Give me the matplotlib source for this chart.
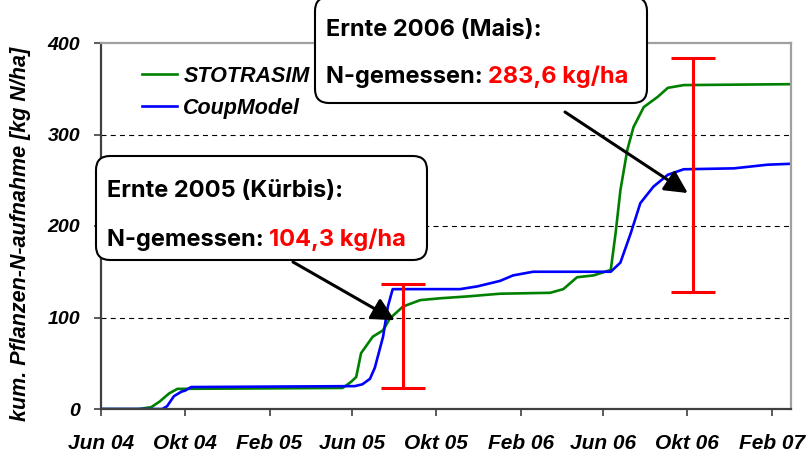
import matplotlib
matplotlib.use("Agg")
import matplotlib.pyplot as plt
from matplotlib.patches import FancyBboxPatch
import numpy as np
import pandas as pd

# kumulierte N-Aufnahme
stotrasim_dates = ["2004-06-01", "2004-07-26", "2004-08-13", "2004-08-25", "2004-09-08", "2004-09-20",
                   "2005-05-18", "2005-05-24", "2005-05-31", "2005-06-07", "2005-06-14", "2005-07-01",
                   "2005-07-16", "2005-07-26", "2005-08-14", "2005-09-08", "2005-10-07", "2005-11-15",
                   "2006-01-02", "2006-03-16", "2006-04-04", "2006-04-24", "2006-05-18", "2006-06-12",
                   "2006-06-19", "2006-06-26", "2006-07-06", "2006-07-15", "2006-07-30", "2006-08-19",
                   "2006-09-03", "2006-09-26", "2007-03-01"]
stotrasim_n = [0, 0, 2, 8, 17, 22,
               23, 26, 30, 35, 61, 79,
               86, 99, 112, 119, 121, 123,
               126, 127, 131, 144, 146, 152,
               192, 239, 283, 308, 330, 341,
               351, 354, 355]

coup_dates = ["2004-06-01", "2004-08-29", "2004-09-05", "2004-09-15", "2004-09-26", "2004-10-01",
              "2004-10-10", "2005-06-05", "2005-06-16", "2005-06-27", "2005-07-04", "2005-07-16",
              "2005-07-23", "2005-07-30", "2005-11-05", "2005-11-30", "2006-01-02", "2006-01-21",
              "2006-02-19", "2006-06-12", "2006-06-26", "2006-07-11", "2006-07-25", "2006-08-13",
              "2006-09-03", "2006-09-26", "2006-12-08", "2007-01-26", "2007-03-01"]
coup_n = [0, 0, 3, 14, 19, 20,
          24, 25, 27, 33, 45, 79,
          112, 131, 131, 134, 140, 146,
          150, 150, 160, 192, 225, 243,
          256, 262, 263, 267, 268]

# Messungen (Fehlerbalken)
ernte_dates = ["2005-08-14", "2006-10-10"]
ernte_low = [23, 128]
ernte_high = [137, 384]
ernte_titel = ["Ernte 2005 (Kürbis):", "Ernte 2006 (Mais):"]
ernte_wert = ["104,3 kg/ha", "283,6 kg/ha"]
pfeil_dates = ["2005-08-02", "2006-10-02"]
pfeil_n = [97, 236]

tick_dates = ["2004-06-01", "2004-10-01", "2005-02-01", "2005-06-01", "2005-10-01",
              "2006-02-01", "2006-06-01", "2006-10-01", "2007-02-01"]
tick_labels = ["Jun 04", "Okt 04", "Feb 05", "Jun 05", "Okt 05",
               "Feb 06", "Jun 06", "Okt 06", "Feb 07"]
y_ticks = [0, 100, 200, 300, 400]

W, H = 809, 454
arial = "Liberation Sans"
box_font = ["Inter", "DejaVu Sans"]

fig = plt.figure(figsize=(W / 100, H / 100), dpi=100)
ax = fig.add_axes([101 / W, 45 / H, 690 / W, 366 / H])

ax.plot(pd.to_datetime(stotrasim_dates), stotrasim_n, color="#008000", lw=1.9, label="STOTRASIM")
ax.plot(pd.to_datetime(coup_dates), coup_n, color="#0000FF", lw=1.9, label="CoupModel")

low = np.array(ernte_low)
high = np.array(ernte_high)
ax.errorbar(pd.to_datetime(ernte_dates), low, yerr=[np.zeros_like(low), high - low],
            fmt="none", ecolor="#FF0000", elinewidth=2.2, capsize=16, capthick=2.2, zorder=5)

ax.set_xlim(pd.Timestamp("2004-06-01"), pd.Timestamp("2007-03-01"))
ax.set_ylim(0, 400)
ax.set_xticks(pd.to_datetime(tick_dates))
ax.set_xticklabels(tick_labels, fontsize=15, fontweight="bold", fontstyle="italic", family=arial)
ax.set_yticks(y_ticks)
ax.set_yticklabels([str(v) for v in y_ticks], fontsize=14, fontweight="bold", fontstyle="italic",
                   family=arial)
ax.tick_params(axis="y", direction="out", length=5, width=1.2, color="#404040", pad=10)
ax.tick_params(axis="x", direction="out", length=5, width=1.2, color="#404040", pad=13)

for y in y_ticks[1:-1]:
    ax.axhline(y, color="black", lw=0.8, ls=(0, (4.5, 3.8)), zorder=1)

for side in ["left", "bottom"]:
    ax.spines[side].set_color("#404040")
    ax.spines[side].set_linewidth(1.6)
for side in ["top", "right"]:
    ax.spines[side].set_color("#A0A0A0")
    ax.spines[side].set_linewidth(1.6)

fig.text(21, 220, "kum. Pflanzen-N-aufnahme [kg N/ha]", transform=None, rotation=90,
         ha="center", va="center", fontsize=15.5, fontweight="bold", fontstyle="italic", family=arial)

leg = ax.legend(loc="upper left", bbox_to_anchor=(0.059, 0.938), frameon=False, borderpad=0,
                borderaxespad=0, handlelength=1.63, handletextpad=0.3, labelspacing=0.52,
                prop=dict(family=arial, weight="bold", style="italic", size=15.5))

# Kästen mit Pfeilen
boxes = [(96, H - 260, 331, 104), (315, H - 103, 332, 106)]
text_pos = [(107, H - 197, H - 246), (326, H - 36, H - 83)]
arrow_start = [(293, H - 262), (565, H - 112)]

for i in range(2):
    ax.annotate("", xy=(pd.Timestamp(pfeil_dates[i]), pfeil_n[i]), xycoords="data",
                xytext=arrow_start[i], textcoords="figure pixels",
                arrowprops=dict(arrowstyle="-|>,head_length=0.55,head_width=0.28", color="black",
                                lw=2.2, shrinkA=0, shrinkB=0, mutation_scale=25),
                annotation_clip=False)

    x0, y0, w, h = boxes[i]
    box = FancyBboxPatch((x0, y0), w, h, boxstyle="round,pad=0,rounding_size=14",
                         transform=None, facecolor="white", edgecolor="black", lw=1.5, zorder=10)
    fig.add_artist(box)

    tx, ty1, ty2 = text_pos[i]
    fig.text(tx, ty1, ernte_titel[i], transform=None, fontsize=17, fontweight="bold",
             family=box_font, va="baseline", zorder=11)
    t = fig.text(tx, ty2, "N-gemessen: ", transform=None, fontsize=17, fontweight="bold",
                 family=box_font, va="baseline", zorder=11)
    fig.add_artist(plt.Annotation(ernte_wert[i], xy=(1, 0), xycoords=t, va="bottom", ha="left",
                                  fontsize=17, fontweight="bold", family=box_font, color="#FF0000",
                                  zorder=11))

fig.savefig("out.png", dpi=100)
